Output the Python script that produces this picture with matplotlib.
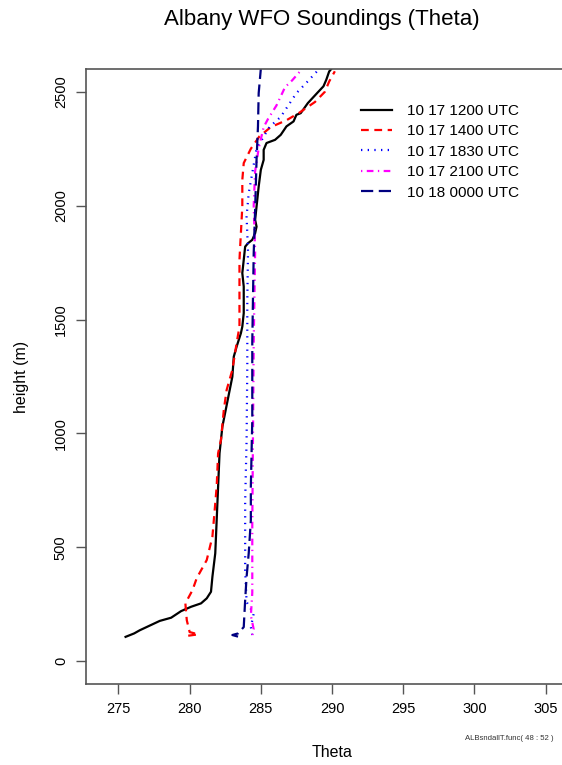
import matplotlib
matplotlib.use("Agg")
import matplotlib.pyplot as plt
from matplotlib.lines import Line2D

plt.rcParams['font.family'] = ['Liberation Sans', 'DejaVu Sans']

# ---- data (theta K, height m) ----
t1200 = [275.5, 276.1, 276.5, 277.9, 278.7, 279.4, 280.1, 280.8, 281.2, 281.5, 281.6, 281.8, 281.9, 282.0,
         282.1, 282.3, 283.0, 283.1, 283.3, 283.6, 283.7, 283.8, 283.8, 283.8, 283.7, 283.8, 283.9, 284.1,
         284.4, 284.6, 284.7, 284.6, 284.7, 284.85, 285.0, 285.2, 285.2, 285.4, 286.0, 286.4, 286.8, 287.3,
         287.5, 287.8, 288.3, 288.95, 289.4, 289.6, 289.8, 290.0]
h1200 = [107, 122, 136, 177, 191, 220, 239, 254, 276, 305, 371, 474, 620, 767,
         913, 1030, 1249, 1337, 1381, 1440, 1469, 1528, 1580, 1645, 1704, 1762, 1820, 1835,
         1850, 1879, 1908, 1938, 1996, 2084, 2157, 2201, 2245, 2275, 2289, 2311, 2348, 2370,
         2399, 2406, 2450, 2494, 2524, 2553, 2589, 2604]

t1400 = [279.9, 280.6, 280.0, 279.8, 279.7, 280.2, 280.5, 281.2, 281.6, 281.7, 281.9, 282.0, 282.2, 282.4,
         282.6, 283.0, 283.3, 283.5, 283.5, 283.5, 283.5, 283.6, 283.7, 283.7, 283.8, 284.3, 284.9, 285.7,
         286.8, 287.7, 288.8, 289.5, 289.8, 290.2]
h1400 = [112, 118, 128, 180, 254, 312, 365, 444, 547, 620, 767, 913, 971, 1103,
         1191, 1279, 1396, 1469, 1557, 1645, 1762, 1879, 1996, 2113, 2187, 2250, 2304, 2345,
         2375, 2408, 2455, 2500, 2545, 2590]

t1830 = [284.4, 284.3, 284.5, 284.0, 283.9, 283.9, 284.0, 284.05, 284.05, 284.1, 284.0, 284.15, 284.7,
         285.6, 286.4, 287.5, 288.3, 288.8, 289.1]
h1830 = [115, 150, 209, 260, 400, 700, 970, 1300, 1580, 1800, 1953, 2055, 2250,
         2345, 2390, 2494, 2546, 2580, 2600]

t2100 = [284.4, 284.5, 284.3, 284.4, 284.4, 284.45, 284.5, 284.6, 284.5, 284.6, 284.85, 285.2, 285.5,
         286.1, 286.7, 287.2, 287.9]
h2100 = [115, 140, 200, 300, 600, 1000, 1400, 1800, 2000, 2150, 2252, 2345, 2380,
         2440, 2520, 2550, 2600]

t0000 = [283.4, 283.0, 283.4, 283.8, 283.9, 284.0, 284.15, 284.3, 284.3, 284.4, 284.4, 284.5, 284.6,
         284.7, 284.8, 284.85, 285.0]
h0000 = [108, 115, 122, 150, 268, 370, 474, 620, 767, 1060, 1400, 1791, 1982,
         2201, 2348, 2494, 2600]

labels = ["10 17 1200 UTC", "10 17 1400 UTC", "10 17 1830 UTC", "10 17 2100 UTC", "10 18 0000 UTC"]
xticks = [275, 280, 285, 290, 295, 300, 305]
yticks = [0, 500, 1000, 1500, 2000, 2500]

W, H = 562, 765
fig = plt.figure(figsize=(W / 100, H / 100), dpi=100)
L, R, T, B = 86, 578, 69, 684
ax = fig.add_axes([L / W, 1 - B / H, (R - L) / W, (B - T) / H])
ax.set_xlim(272.72, 307.28)
ax.set_ylim(-100, 2600)

lw = 1.6
styles = [
    dict(color='black', linestyle='-'),
    dict(color='#FF0000', linestyle=(0, (3.5, 2.5))),
    dict(color='#0000FF', linestyle=(0, (0.6, 2.4))),
    dict(color='#FF00FF', linestyle=(0, (0.6, 2.0, 3.0, 2.0))),
    dict(color='#000080', linestyle=(0, (5.5, 2.5))),
]
series = [(t1200, h1200), (t1400, h1400), (t1830, h1830), (t2100, h2100), (t0000, h0000)]
for (t, h), st in zip(series, styles):
    ax.plot(t, h, lw=lw, **st)

frame_col = '#555555'
for s in ax.spines.values():
    s.set_color(frame_col)
    s.set_linewidth(1.2)
ax.set_xticks(xticks)
ax.set_yticks(yticks)
ax.tick_params(direction='out', length=7, width=1.0, color=frame_col, labelsize=10.5, pad=6)
for lab in ax.get_yticklabels():
    lab.set_rotation(90)
    lab.set_va('center')

ax.set_xlabel("Theta", fontsize=11.5, labelpad=21)
ax.set_ylabel("height (m)", fontsize=11.5, labelpad=18)
fig.text(322 / W, 1 - 19 / H, "Albany WFO Soundings (Theta)", ha='center', va='center', fontsize=16)
fig.text(465 / W, 1 - 738 / H, "ALBsndallT.func( 48 : 52 )", ha='left', va='center', fontsize=5.6,
         color='#333333')

handles = [Line2D([], [], lw=lw, **st) for st in styles]
ax.legend(handles, labels, loc='upper left', bbox_to_anchor=(361 / W, 1 - 104 / H),
          bbox_transform=fig.transFigure, frameon=False, fontsize=11,
          handlelength=2.0, handletextpad=1.0, labelspacing=0.42, borderpad=0, borderaxespad=0)

fig.savefig("out.png", dpi=100)
